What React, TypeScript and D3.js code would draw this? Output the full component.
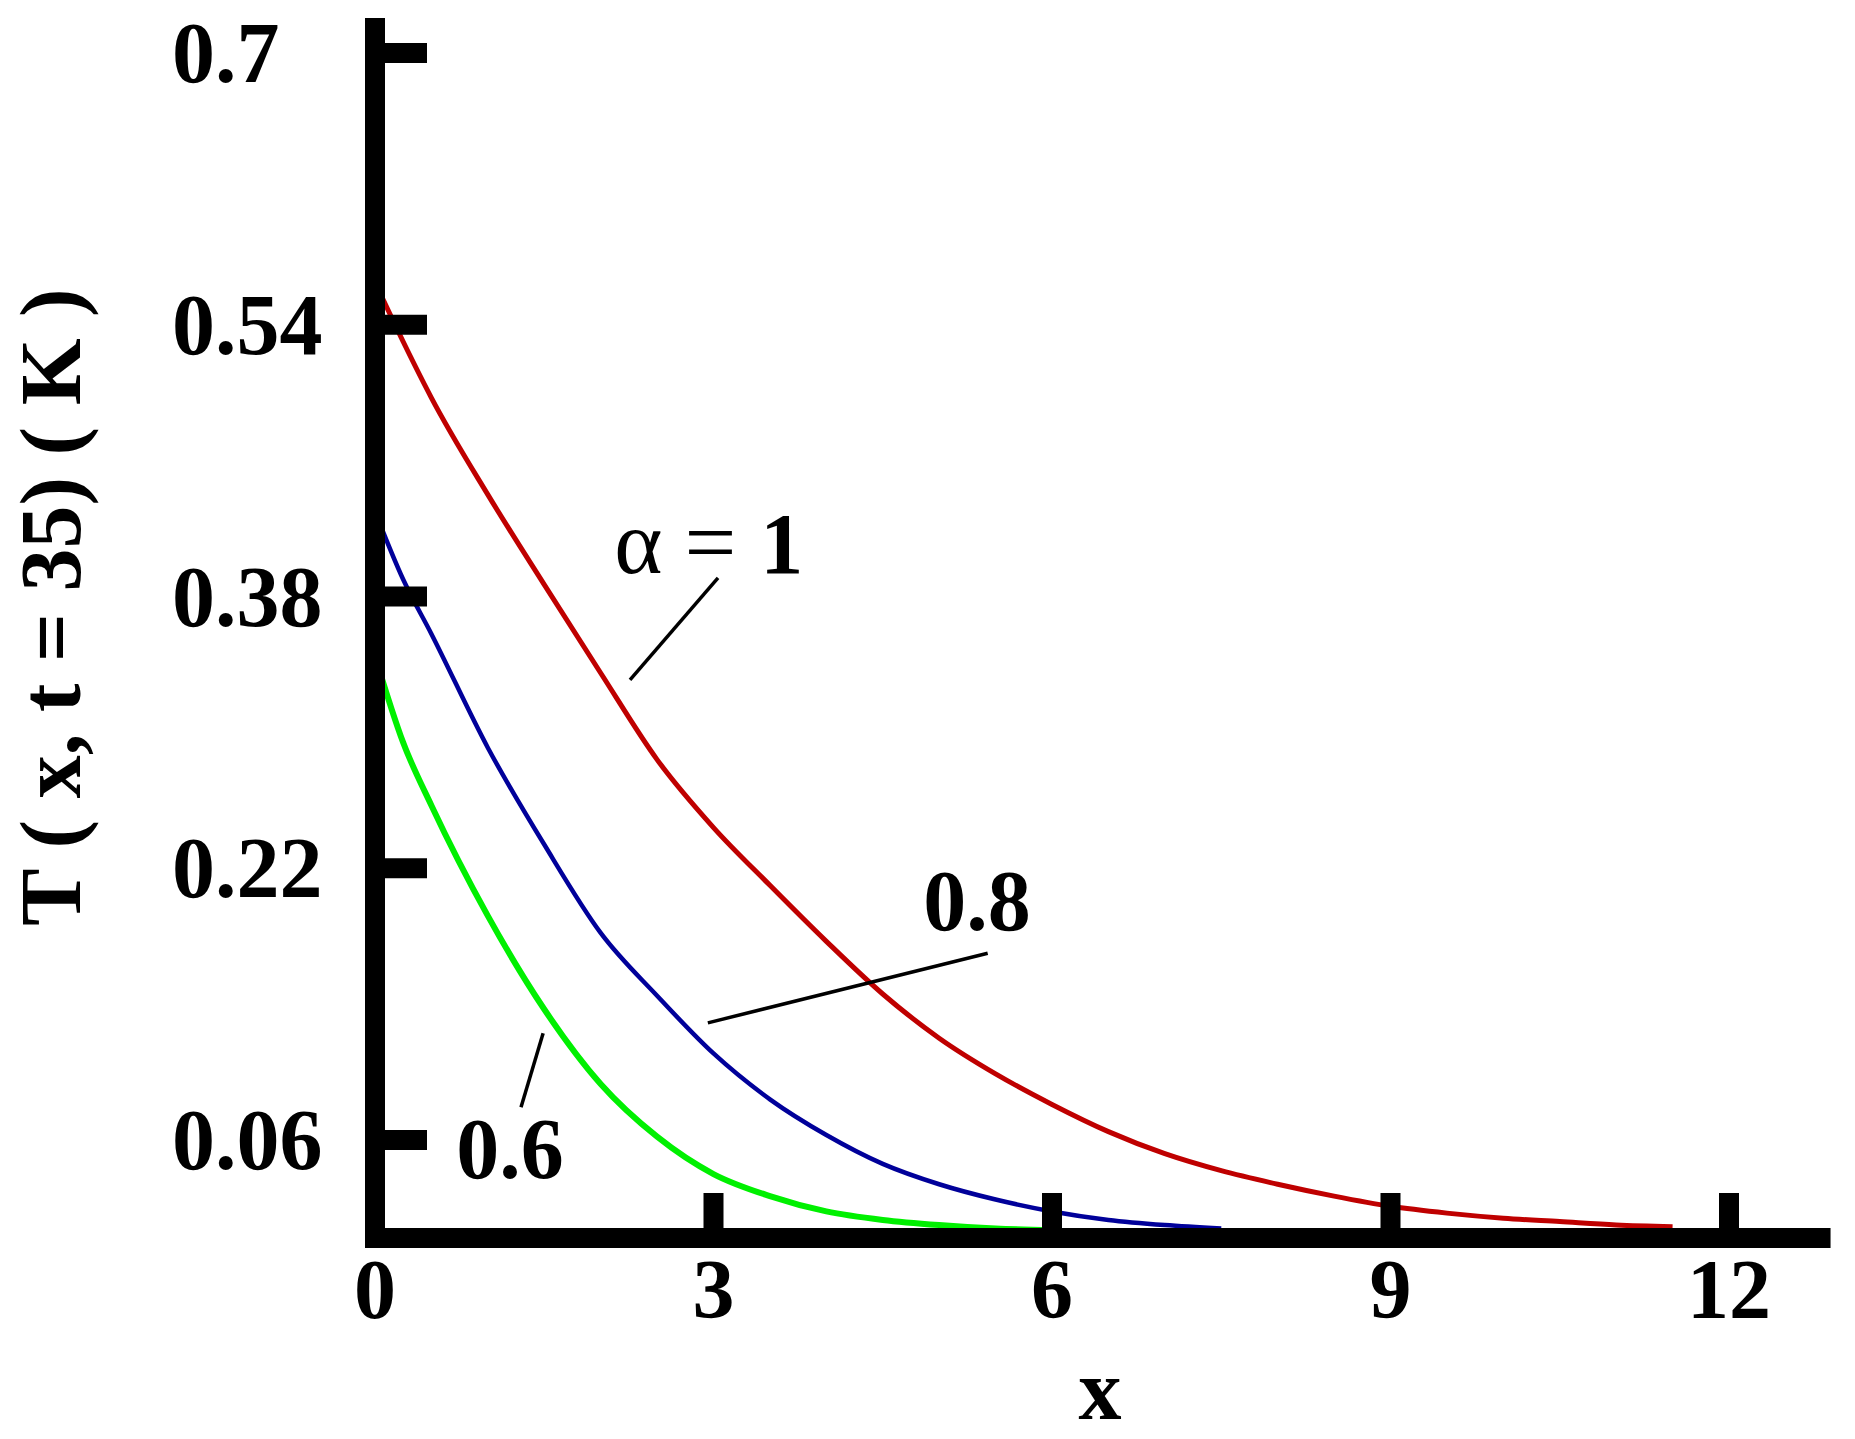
import React from "react";
import * as d3 from "d3";

// ---- data ----
const xAlpha1 = [0, 0.25, 0.5, 1, 1.5, 2, 2.5, 3, 3.5, 4, 4.5, 5, 5.5, 6, 6.5, 7, 7.5, 8, 8.5, 9, 9.5, 10, 10.5, 11, 11.5];
const tAlpha1 = [0.565, 0.53, 0.497, 0.44, 0.387, 0.335, 0.284, 0.244, 0.21, 0.177, 0.146, 0.12, 0.099, 0.081, 0.065, 0.052, 0.042, 0.034, 0.027, 0.021, 0.017, 0.014, 0.012, 0.01, 0.009];

const xAlpha08 = [0, 0.25, 0.5, 1, 1.5, 2, 2.5, 3, 3.5, 4, 4.5, 5, 5.5, 6, 6.5, 7, 7.5];
const tAlpha08 = [0.43, 0.39, 0.358, 0.291, 0.234, 0.182, 0.145, 0.111, 0.084, 0.063, 0.046, 0.034, 0.025, 0.018, 0.013, 0.01, 0.008];

const xAlpha06 = [0, 0.25, 0.5, 1, 1.5, 2, 2.5, 3, 3.5, 4, 4.5, 5, 5.5, 6];
const tAlpha06 = [0.345, 0.294, 0.257, 0.192, 0.137, 0.093, 0.062, 0.04, 0.027, 0.018, 0.013, 0.01, 0.008, 0.007];

const xTicks = [3, 6, 9, 12];
const xTickLabels = ["0", "3", "6", "9", "12"];
const xLabelValues = [0, 3, 6, 9, 12];
const yTicks = [0.06, 0.22, 0.38, 0.54, 0.7];
const yTickLabels = ["0.06", "0.22", "0.38", "0.54", "0.7"];

const series = [
  { xs: xAlpha1, ys: tAlpha1, color: "#bf0000", width: 5 },
  { xs: xAlpha08, ys: tAlpha08, color: "#00009a", width: 4.5 },
  { xs: xAlpha06, ys: tAlpha06, color: "#00f000", width: 6 },
];

const FONT = "'Liberation Serif', 'Times New Roman', serif";

export default function App() {
  const W = 1855;
  const H = 1439;
  const x = d3.scaleLinear().domain([0, 12]).range([375, 1729]);
  const y = d3.scaleLinear().domain([0, 0.7]).range([1242, 53]);

  const line = d3
    .line<[number, number]>()
    .x((d) => x(d[0]))
    .y((d) => y(d[1]))
    .curve(d3.curveMonotoneX);

  const axisX = x(0);
  const axisY = y(0) - 4;
  const yTop = y(0.7206);
  const xRight = x(12.9);

  // annotation anchors in data units
  const a1Text = { x: 2.12, y: 0.394 };
  const a1Lead = [[3.04, 0.391], [2.26, 0.331]];
  const a08Text = { x: 4.86, y: 0.1835 };
  const a08Lead = [[5.43, 0.17], [2.95, 0.129]];
  const a06Text = { x: 0.72, y: 0.0375 };
  const a06Lead = [[1.49, 0.1229], [1.294, 0.0793]];

  return (
    <svg
      width={W}
      height={H}
      style={{ position: "absolute", left: 0, top: 0, display: "block", background: "#fff" }}
    >
      <rect x={0} y={0} width={W} height={H} fill="#fff" />
      {series.map((s, i) => (
        <path
          key={i}
          d={line(s.xs.map((v, j) => [v, s.ys[j]] as [number, number])) || ""}
          fill="none"
          stroke={s.color}
          strokeWidth={s.width}
          strokeLinejoin="round"
        />
      ))}

      {/* leader lines */}
      {[a1Lead, a08Lead, a06Lead].map((l, i) => (
        <line
          key={i}
          x1={x(l[0][0])}
          y1={y(l[0][1])}
          x2={x(l[1][0])}
          y2={y(l[1][1])}
          stroke="#000"
          strokeWidth={3.5}
        />
      ))}

      {/* axes */}
      <line x1={axisX} x2={axisX} y1={yTop} y2={axisY + 10} stroke="#000" strokeWidth={20} />
      <line x1={axisX - 10} x2={xRight} y1={axisY} y2={axisY} stroke="#000" strokeWidth={20} />
      {yTicks.map((t) => (
        <line key={t} x1={axisX} x2={427} y1={y(t)} y2={y(t)} stroke="#000" strokeWidth={20} />
      ))}
      {xTicks.map((t) => (
        <line key={t} x1={x(t)} x2={x(t)} y1={1193} y2={axisY} stroke="#000" strokeWidth={20} />
      ))}

      {/* tick labels */}
      {yTicks.map((t, i) => (
        <text
          key={t}
          x={172}
          y={y(t) + 29}
          fontFamily={FONT}
          fontWeight="bold"
          fontSize={86}
          fill="#000"
        >
          {yTickLabels[i]}
        </text>
      ))}
      {xLabelValues.map((t, i) => (
        <text
          key={t}
          x={x(t)}
          y={1318}
          textAnchor="middle"
          fontFamily={FONT}
          fontWeight="bold"
          fontSize={84}
          fill="#000"
        >
          {xTickLabels[i]}
        </text>
      ))}

      {/* axis titles */}
      <text
        transform={`translate(80, 607) rotate(-90)`}
        textAnchor="middle"
        fontFamily={FONT}
        fontWeight="bold"
        fontSize={86}
        fill="#000"
      >
        T ( x, t = 35) ( K )
      </text>
      <text
        x={1100}
        y={1419}
        textAnchor="middle"
        fontFamily={FONT}
        fontWeight="bold"
        fontSize={86}
        fill="#000"
      >
        x
      </text>

      {/* curve annotations */}
      <text x={x(a1Text.x)} y={y(a1Text.y)} fontFamily={FONT} fontSize={92} fill="#000">
        <tspan>α</tspan>
        <tspan dx={22}>=</tspan>
        <tspan dx={24} fontWeight="bold" fontSize={86}>1</tspan>
      </text>
      <text
        x={x(a08Text.x)}
        y={y(a08Text.y)}
        fontFamily={FONT}
        fontWeight="bold"
        fontSize={86}
        fill="#000"
      >
        0.8
      </text>
      <text
        x={x(a06Text.x)}
        y={y(a06Text.y)}
        fontFamily={FONT}
        fontWeight="bold"
        fontSize={86}
        fill="#000"
      >
        0.6
      </text>
    </svg>
  );
}
